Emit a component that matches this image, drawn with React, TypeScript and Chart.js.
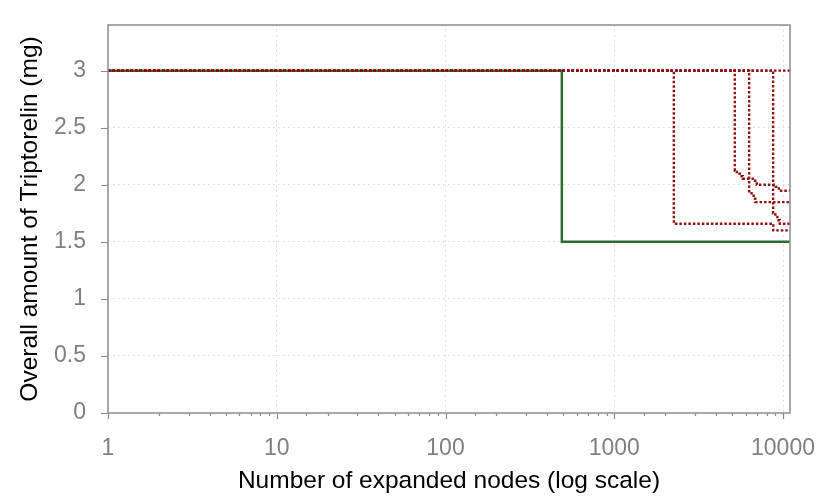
import React, { useEffect, useRef } from 'react';
import { Chart, registerables } from 'chart.js';

Chart.register(...registerables);

// ---- data ----
const xTickLabels = [1, 10, 100, 1000, 10000];
const yTickLabels = [0, 0.5, 1, 1.5, 2, 2.5, 3];
const X_MIN = 1;
const X_MAX = 11000;
const Y_MIN = 0;
const Y_MAX = 3.4;

const optimalX = [1, 489, 11000];
const optimalY = [3, 1.5, 1.5];

const runAX = [1, 2255, 8760, 11000];
const runAY = [3, 1.658, 1.6, 1.6];

const runBX = [1, 5182, 5325, 5548, 5779, 6625, 6994, 9065, 9444, 11000];
const runBY = [3, 2.123, 2.096, 2.075, 2.053, 2.035, 2.0, 1.982, 1.947, 1.947];

const runCX = [1, 6298, 6509, 6714, 6854, 11000];
const runCY = [3, 1.927, 1.904, 1.877, 1.848, 1.848];

const runDX = [1, 8738, 9005, 9253, 9572, 11000];
const runDY = [3, 1.75, 1.719, 1.689, 1.658, 1.658];

const runEX = [1, 11000];
const runEY = [3, 3];

const redRuns = [
  [runAX, runAY],
  [runBX, runBY],
  [runCX, runCY],
  [runDX, runDY],
  [runEX, runEY],
];

const GREEN = '#2f6b2f';
const RED = '#8e1010';
const FRAME = '#8c8c8c';
const TICK_TEXT = '#808080';
const GRID = '#dadada';
const FONT = '"Liberation Sans", Arial, Helvetica, sans-serif';

const toPoints = (xs: number[], ys: number[]) => xs.map((x, i) => ({ x, y: ys[i] }));
const isPow10 = (v: number) => xTickLabels.includes(v);

const framePlugin = {
  id: 'frameAndTicks',
  afterDatasetsDraw(chart: any) {
    const { ctx, chartArea } = chart;
    const xs = chart.scales.x;
    const ys = chart.scales.y;
    ctx.save();
    ctx.strokeStyle = FRAME;
    ctx.lineWidth = 1.5;
    ctx.strokeRect(chartArea.left, chartArea.top, chartArea.right - chartArea.left, chartArea.bottom - chartArea.top);
    ctx.lineWidth = 1.2;
    ctx.beginPath();
    xs.ticks.forEach((t: any) => {
      const v = t.value;
      if (v < X_MIN || v > 10000) return;
      const px = Math.round(xs.getPixelForValue(v)) + 0.5;
      const len = isPow10(v) ? 6 : 3;
      ctx.moveTo(px, chartArea.bottom);
      ctx.lineTo(px, chartArea.bottom + len);
    });
    yTickLabels.forEach((v) => {
      const py = Math.round(ys.getPixelForValue(v)) + 0.5;
      ctx.moveTo(chartArea.left - 7, py);
      ctx.lineTo(chartArea.left, py);
    });
    ctx.stroke();
    ctx.restore();
  },
};

export default function App() {
  const ref = useRef<HTMLCanvasElement | null>(null);

  useEffect(() => {
    if (!ref.current) return;
    const datasets: any[] = [
      {
        label: 'optimal',
        data: toPoints(optimalX, optimalY),
        borderColor: GREEN,
        borderWidth: 2.5,
        stepped: true,
        pointRadius: 0,
        fill: false,
        order: 2,
      },
      ...redRuns.map(([xs, ys], i) => ({
        label: 'run ' + (i + 1),
        data: toPoints(xs, ys),
        borderColor: RED,
        borderWidth: 2.4,
        borderDash: [2.5, 2],
        stepped: true,
        pointRadius: 0,
        fill: false,
        order: 1,
      })),
    ];

    const chart = new Chart(ref.current, {
      type: 'line',
      data: { datasets },
      options: {
        animation: false,
        responsive: false,
        maintainAspectRatio: false,
        parsing: false as any,
        layout: { padding: { top: 25, right: 40, left: 0, bottom: 0 } },
        plugins: {
          legend: { display: false },
          tooltip: { enabled: false },
        },
        scales: {
          x: {
            type: 'logarithmic',
            min: X_MIN,
            max: X_MAX,
            afterFit: (s: any) => {
              s.height = 85;
              s.paddingLeft = 0;
              s.paddingRight = 0;
            },
            border: { display: false, dash: [1.5, 3.5] },
            grid: {
              drawTicks: false,
              color: (c: any) =>
                c.tick && isPow10(c.tick.value) && c.tick.value > 1 ? GRID : 'rgba(0,0,0,0)',
              lineWidth: 1,
            },
            ticks: {
              autoSkip: false,
              maxRotation: 0,
              minRotation: 0,
              padding: 21.5,
              color: TICK_TEXT,
              font: { family: FONT, size: 23 },
              callback: (v: any) => (isPow10(Number(v)) ? String(v) : ''),
            },
            title: {
              display: true,
              text: 'Number of expanded nodes (log scale)',
              color: '#000',
              font: { family: FONT, size: 24.5 },
              padding: { top: 0, bottom: 2 },
            },
          },
          y: {
            type: 'linear',
            min: Y_MIN,
            max: Y_MAX,
            afterFit: (s: any) => {
              s.width = 108;
              s.paddingTop = 0;
              s.paddingBottom = 0;
            },
            border: { display: false, dash: [1.5, 3.5] },
            grid: {
              drawTicks: false,
              color: (c: any) =>
                c.tick && c.tick.value > 0 && c.tick.value < 3 ? GRID : 'rgba(0,0,0,0)',
              lineWidth: 1,
            },
            ticks: {
              stepSize: 0.5,
              padding: 22,
              color: TICK_TEXT,
              font: { family: FONT, size: 23 },
              callback: (v: any) => (yTickLabels.includes(Number(v)) ? String(v) : ''),
            },
            title: {
              display: true,
              text: 'Overall amount of Triptorelin (mg)',
              color: '#000',
              font: { family: FONT, size: 24.5 },
              padding: { top: 15.5, bottom: 0 },
            },
          },
        },
      },
      plugins: [framePlugin],
    });
    return () => chart.destroy();
  }, []);

  return (
    <div style={{ position: 'absolute', left: 0, top: 0, width: 830, height: 498, background: '#fff' }}>
      <canvas ref={ref} width={830} height={498} style={{ display: 'block' }} />
    </div>
  );
}
